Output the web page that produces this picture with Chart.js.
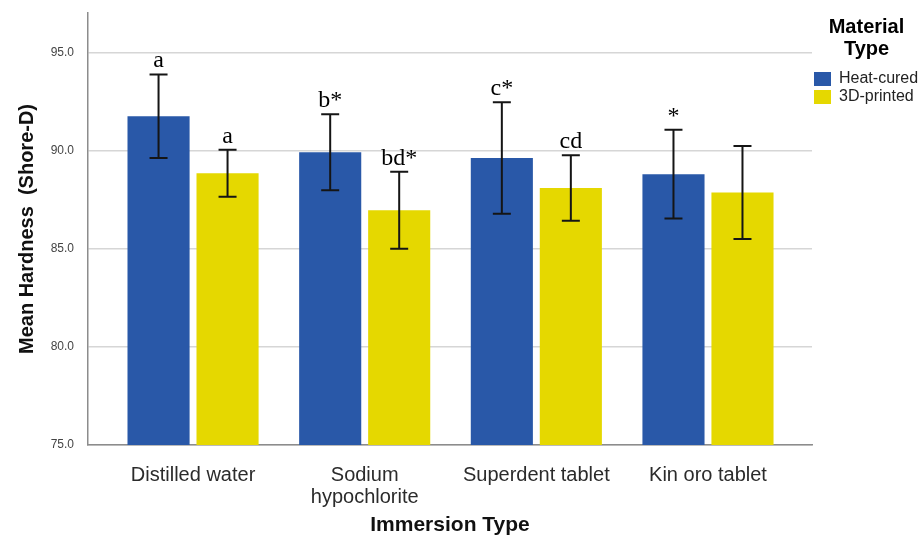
<!DOCTYPE html>
<html>
<head>
<meta charset="utf-8">
<script src="https://cdn.jsdelivr.net/npm/chart.js@4"></script>
<style>
  html, body { margin: 0; padding: 0; background: #fff; }
  #wrap { width: 921px; height: 539px; }
</style>
</head>
<body>
<div id="wrap"><canvas id="hardness" width="921" height="539"></canvas></div>
<script>
// categories on the x axis
const immersionTypes = ["Distilled water", ["Sodium", "hypochlorite"], "Superdent tablet", "Kin oro tablet"];

// mean hardness (Shore-D) per material
const heatCuredMeans = [91.74, 89.91, 89.62, 88.79];
const printedMeans = [88.84, 86.96, 88.09, 87.86];

// error bar half-lengths
const heatCuredErr = [2.13, 1.94, 2.84, 2.26];
const printedErr = [1.20, 1.96, 1.67, 2.37];

// significance letters above the error bars
const heatCuredLetters = ["a", "b*", "c*", "*"];
const printedLetters = ["a", "bd*", "cd", ""];

const yTicks = [75, 80, 85, 90, 95];

Chart.defaults.font.family = "'Liberation Sans', Arial, sans-serif";

const errorBars = {
    id: "errorBars",
    afterDatasetsDraw(chart) {
        const ctx = chart.ctx;
        const yScale = chart.scales.y;
        chart.data.datasets.forEach((ds, d) => {
            const meta = chart.getDatasetMeta(d);
            meta.data.forEach((bar, i) => {
                const mean = ds.data[i].y;
                const err = ds.errors[i];
                const top = yScale.getPixelForValue(mean + err);
                const bottom = yScale.getPixelForValue(mean - err);
                const x = bar.x;
                ctx.save();
                ctx.strokeStyle = "#151515";
                ctx.lineWidth = 2;
                ctx.beginPath();
                ctx.moveTo(x, top);
                ctx.lineTo(x, bottom);
                ctx.moveTo(x - 9, top);
                ctx.lineTo(x + 9, top);
                ctx.moveTo(x - 9, bottom);
                ctx.lineTo(x + 9, bottom);
                ctx.stroke();

                // letters
                ctx.fillStyle = "#000";
                ctx.font = "24px 'Liberation Serif', 'Times New Roman', serif";
                ctx.textAlign = "center";
                ctx.textBaseline = "alphabetic";
                ctx.fillText(ds.letters[i], x, top - 7);
                ctx.restore();
            });
        });
    },
};

const ctx = document.getElementById("hardness");

new Chart(ctx, {
    type: "bar",
    data: {
        datasets: [
            {
                label: "Heat-cured",
                data: heatCuredMeans.map((v, i) => ({ x: i, y: v })),
                errors: heatCuredErr,
                letters: heatCuredLetters,
                backgroundColor: "#2958a8",
                borderWidth: 0,
            },
            {
                label: "3D-printed",
                data: printedMeans.map((v, i) => ({ x: i, y: v })),
                errors: printedErr,
                letters: printedLetters,
                backgroundColor: "#e5d800",
                borderWidth: 0,
            },
        ],
    },
    options: {
        responsive: false,
        animation: false,
        categoryPercentage: 0.804,
        barPercentage: 0.9,
        layout: { padding: { top: 13, left: 0, right: 0, bottom: 0 } },
        plugins: {
            tooltip: { enabled: false },
            legend: {
                position: "right",
                align: "start",
                maxWidth: 109,
                labels: {
                    boxWidth: 17,
                    boxHeight: 14,
                    padding: 2,
                    color: "#222",
                    font: { size: 16 },
                },
                title: {
                    display: true,
                    text: ["Material", "Type"],
                    color: "#000",
                    font: { size: 20, weight: "bold", lineHeight: 1.1 },
                    padding: { top: 4, bottom: 30 },
                },
            },
        },
        scales: {
            x: {
                type: "linear",
                offset: false,
                min: -0.612,
                max: 3.606,
                grid: { display: false },
                border: { display: true, color: "#8c8c8c", width: 1.5 },
                ticks: {
                    stepSize: 1,
                    includeBounds: false,
                    autoSkip: false,
                    maxRotation: 0,
                    minRotation: 0,
                    padding: 11,
                    color: "#2b2b2b",
                    font: { size: 20, lineHeight: 1.1 },
                    callback: (value) => (Number.isInteger(value) ? immersionTypes[value] : ""),
                },
                title: {
                    display: true,
                    text: "Immersion Type",
                    color: "#111",
                    font: { size: 21, weight: "bold" },
                    padding: { top: 0, bottom: 1 },
                },
                afterFit: (scale) => {
                    scale.height = 94;
                },
            },
            y: {
                min: 75,
                max: 97,
                beginAtZero: false,
                // invisible tick marks give the label gap without padding the top
                grid: { color: "#d6d6d6", lineWidth: 1.5, drawTicks: true, tickLength: 14, tickColor: "rgba(0,0,0,0)" },
                border: { display: true, color: "#8c8c8c", width: 1.5 },
                afterBuildTicks: (scale) => {
                    scale.ticks = yTicks.map((v) => ({ value: v }));
                },
                ticks: {
                    padding: 0,
                    color: "#444",
                    font: { size: 12 },
                    callback: (value) => value.toFixed(1),
                },
                title: {
                    display: true,
                    text: "Mean Hardness  (Shore-D)",
                    color: "#111",
                    font: { size: 20, weight: "bold" },
                    padding: { top: 15, bottom: 0 },
                },
                afterFit: (scale) => {
                    scale.width = 88;
                },
            },
        },
    },
    plugins: [errorBars],
});
</script>
</body>
</html>
